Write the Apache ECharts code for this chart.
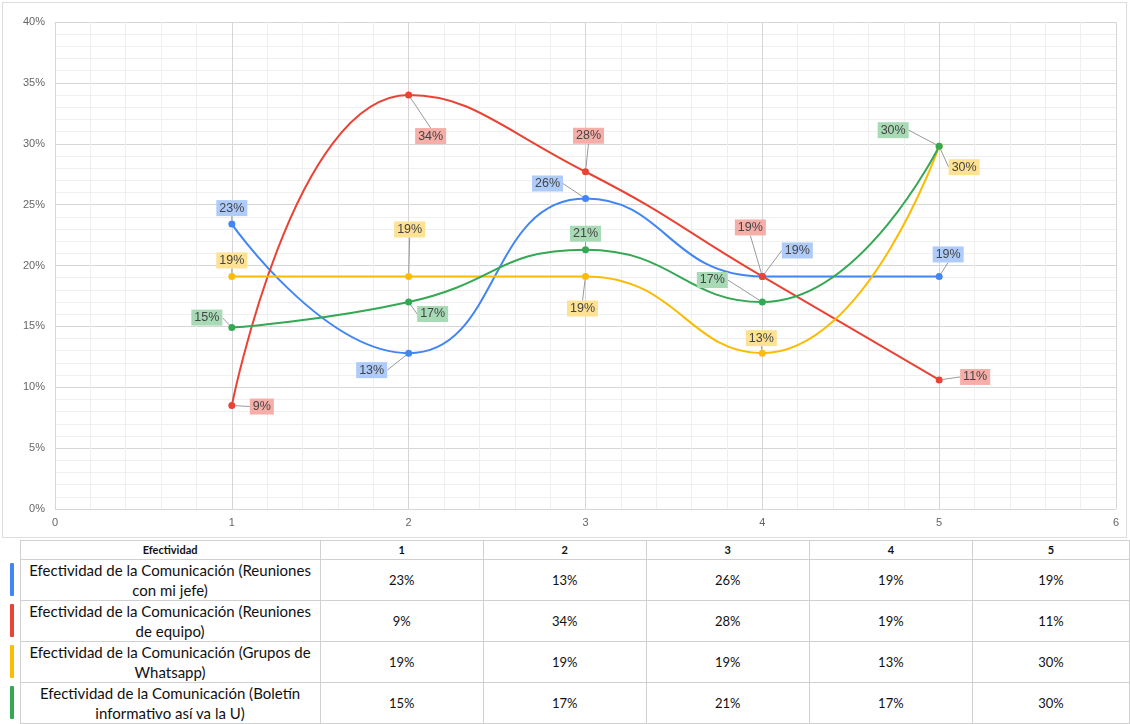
<!DOCTYPE html>
<html>
<head>
<meta charset="utf-8">
<script src="https://cdn.jsdelivr.net/npm/echarts@6/dist/echarts.min.js"></script>
<style>
  html, body { margin: 0; padding: 0; background: #fff; }
  #chart { position: absolute; left: 2px; top: 2px; width: 1125px; height: 536px; border: 1px solid #ddd; box-sizing: border-box; }
  #tbl { position: absolute; left: 2px; top: 540px; width: 1128px; border-collapse: collapse; font-family: Lato, "Open Sans", sans-serif; font-size: 13px; color: #111; table-layout: fixed; }
  #tbl td { border: 1px solid #d0d0d0; text-align: center; padding: 0; line-height: 20px; }
  #tbl td.nm { font-size: 15px; padding: 0 8px; }
  #tbl tr.hd td { height: 18px; font-weight: bold; font-size: 11px; line-height: 16px; }
  #tbl tr.rw td { height: 40px; }
  #tbl td.sw { border-left: none; border-top: none; border-bottom: none; position: relative; }
  .bar { position: absolute; left: 8px; top: 3px; width: 4px; height: 33px; border-radius: 1px; }
</style>
</head>
<body>
<div id="chart"></div>
<table id="tbl"></table>
<script>
// categorías (escala de efectividad) y series
const xValues = [1, 2, 3, 4, 5];
const seriesNames = [
  "Efectividad de la Comunicación (Reuniones con mi jefe)",
  "Efectividad de la Comunicación (Reuniones de equipo)",
  "Efectividad de la Comunicación (Grupos de Whatsapp)",
  "Efectividad de la Comunicación (Boletín informativo así va la U)",
];
const jefe = [0.234, 0.128, 0.255, 0.191, 0.191];
const equipo = [0.085, 0.340, 0.277, 0.191, 0.106];
const whatsapp = [0.191, 0.191, 0.191, 0.128, 0.298];
const boletin = [0.149, 0.170, 0.213, 0.170, 0.298];
const yTicks = [0, 0.05, 0.1, 0.15, 0.2, 0.25, 0.3, 0.35, 0.4];

const colors = ["#4285f4", "#ea4335", "#fbbc04", "#34a853"];
const labelBg = ["#aecbfa", "#f6aea9", "#fde293", "#a8dab5"];
// desplazamiento de cada etiqueta respecto a su punto (px)
const labelOffsets = [
  [[0, -16], [-37, 17], [-38, -15], [35, -26], [9, -22]],
  [[30, 1], [22, 41], [3, -36], [-12, -49], [36, -3]],
  [[0, -16], [1, -47], [-3, 32], [-1, -15], [25, 21]],
  [[-25, -10], [24, 12], [0, -16], [-50, -22], [-46, -16]],
];

const allData = [jefe, equipo, whatsapp, boletin];
const pct = (v) => Math.round(v * 100) + "%";

const chart = echarts.init(document.getElementById("chart"));

const series = allData.map((vals, s) => ({
  name: seriesNames[s],
  type: "line",
  smooth: 0.5,
  data: vals.map((v, i) => [xValues[i], v]),
  symbol: "circle",
  symbolSize: 7,
  lineStyle: { color: colors[s], width: 2 },
  itemStyle: { color: colors[s] },
  label: {
    show: true,
    position: "inside",
    formatter: (p) => pct(p.value[1]),
    fontFamily: "Liberation Sans, Arial, sans-serif",
    fontSize: 12.5,
    color: "#444",
    backgroundColor: labelBg[s],
    padding: [2, 3, 1, 3],
  },
  labelLine: { show: true, lineStyle: { color: "#999", width: 1 } },
  labelLayout: (p) => {
    const off = labelOffsets[s][p.dataIndex];
    return {
      x: p.rect.x + p.rect.width / 2 + off[0],
      y: p.rect.y + p.rect.height / 2 + off[1],
      align: "center",
      verticalAlign: "middle",
    };
  },
  z: 3,
}));

chart.setOption({
  animation: false,
  textStyle: { fontFamily: "Liberation Sans, Arial, sans-serif" },
  grid: { left: 52, right: 10, top: 19, bottom: 28 },
  xAxis: {
    type: "value",
    min: 0,
    max: 6,
    interval: 1,
    axisLine: { show: false },
    axisTick: { show: false },
    axisLabel: { color: "#666", fontSize: 11, margin: 8 },
    splitLine: { show: true, lineStyle: { color: "#d6d6d6", width: 1 } },
    minorTick: { show: false, splitNumber: 5 },
    minorSplitLine: { show: true, lineStyle: { color: "#efefef", width: 1 } },
  },
  yAxis: {
    type: "value",
    min: yTicks[0],
    max: yTicks[yTicks.length - 1],
    interval: 0.05,
    axisLine: { show: false },
    axisTick: { show: false },
    axisLabel: { color: "#666", fontSize: 11, margin: 10, formatter: pct },
    splitLine: { show: true, lineStyle: { color: "#d6d6d6", width: 1 } },
    minorTick: { show: false, splitNumber: 5 },
    minorSplitLine: { show: true, lineStyle: { color: "#efefef", width: 1 } },
  },
  series: series,
});

// tabla de datos debajo del gráfico
const tbl = document.getElementById("tbl");
let html = '<colgroup><col style="width:18px"><col style="width:300px">' +
  xValues.map((_, i) => '<col style="width:' + (i < 4 ? 163 : 157) + 'px">').join("") + "</colgroup>";
html += '<tr class="hd"><td class="sw"></td><td>Efectividad</td>' + xValues.map((x) => "<td>" + x + "</td>").join("") + "</tr>";
allData.forEach((vals, s) => {
  html += '<tr class="rw"><td class="sw"><div class="bar" style="background:' + colors[s] + '"></div></td>' +
    '<td class="nm">' + seriesNames[s] + "</td>" + vals.map((v) => "<td>" + pct(v) + "</td>").join("") + "</tr>";
});
tbl.innerHTML = html;
</script>
</body>
</html>
